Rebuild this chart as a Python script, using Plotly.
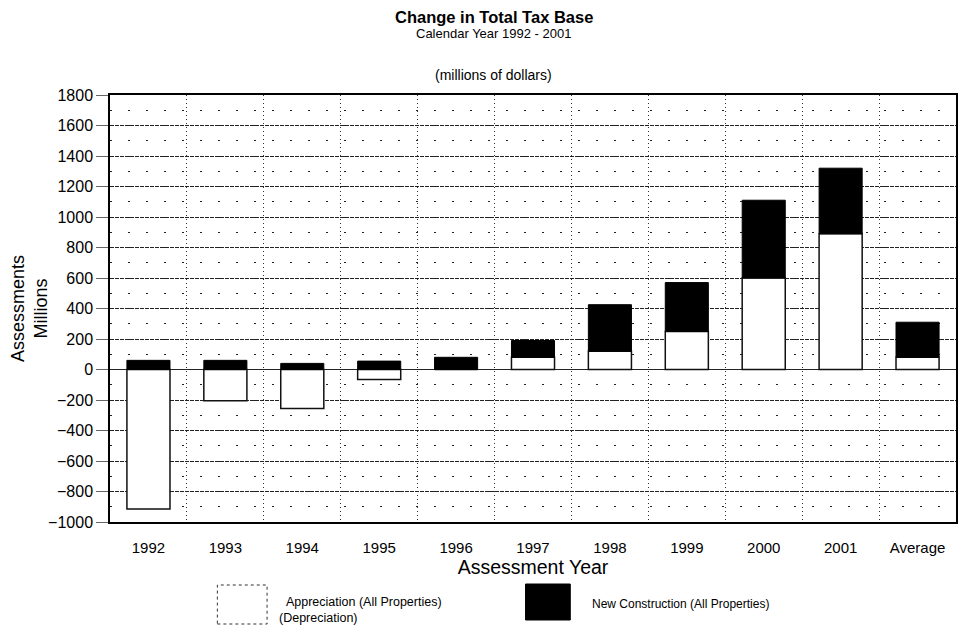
import plotly.graph_objects as go

categories = ["1992", "1993", "1994", "1995", "1996", "1997", "1998", "1999", "2000", "2001", "Average"]
appreciation = [-915, -205, -255, -65, 0, 80, 120, 250, 600, 890, 80]
new_construction = [60, 60, 40, 55, 80, 110, 305, 320, 510, 430, 230]
y_ticks = list(range(-1000, 1801, 200))

FONT = "Liberation Sans, Arial, Helvetica, sans-serif"

fig = go.Figure()
fig.add_trace(go.Bar(
    x=categories, y=appreciation, name="Appreciation (All Properties)",
    marker=dict(color="white", line=dict(color="#111", width=1.5)),
    showlegend=False,
))
fig.add_trace(go.Bar(
    x=categories, y=new_construction, name="New Construction (All Properties)",
    marker=dict(color="black", line=dict(color="black", width=1)),
    showlegend=False,
))

# page has an 8px body margin; figure sized to fit inside the window
OFF = 8
W, H = 950, 619
L, R, T, B = 107 - OFF, 0, 95 - OFF, (OFF + H) - 522
pw, ph = W - L - R, H - T - B

def px_x(px):
    return (px - OFF - L) / pw

def px_y(py):
    return (OFF + H - B - py) / ph

def note(text, x, y, size, xanchor="center", bold=False, align="center"):
    return dict(text=f"<b>{text}</b>" if bold else text, xref="paper", yref="paper",
                x=px_x(x), y=px_y(y), xanchor=xanchor, yanchor="middle", align=align,
                showarrow=False, font=dict(size=size, family=FONT, color="black"))

fig.update_layout(
    width=W, height=H,
    margin=dict(l=L, r=R, t=T, b=B),
    barmode="relative",
    bargap=0.44,
    plot_bgcolor="white",
    paper_bgcolor="white",
    font=dict(family=FONT, color="black", size=13),
    xaxis=dict(
        type="category",
        tickson="boundaries",
        showgrid=True, gridcolor="#333", griddash="1px,3px", gridwidth=1,
        ticks="", ticklabelstandoff=11,
        showline=True, linecolor="black", linewidth=2, mirror=True,
        tickfont=dict(size=15, family=FONT),
        title=dict(text="Assessment Year", font=dict(size=19.5, family=FONT), standoff=0),
    ),
    yaxis=dict(
        range=[-1000, 1800],
        tickvals=y_ticks,
        showgrid=True, gridcolor="#222", griddash="4px,1px", gridwidth=1,
        zeroline=True, zerolinecolor="#222", zerolinewidth=1,
        minor=dict(dtick=100, showgrid=True, gridcolor="#222", griddash="2px,16px", gridwidth=1),
        ticks="outside", ticklen=12, tickcolor="#666", tickwidth=1,
        showline=True, linecolor="black", linewidth=1.5, mirror=True,
        tickfont=dict(size=16, family=FONT),
        title=dict(text="Assessments<br>Millions", font=dict(size=18, family=FONT), standoff=4),
    ),
    shapes=[
        dict(type="rect", xref="paper", yref="paper",
             x0=px_x(215), x1=px_x(265), y0=px_y(624), y1=px_y(585),
             line=dict(color="#333", width=1, dash="dot"), fillcolor="white"),
        dict(type="rect", xref="paper", yref="paper",
             x0=px_x(525), x1=px_x(570), y0=px_y(620), y1=px_y(584),
             line=dict(color="black", width=1), fillcolor="black"),
    ],
    annotations=[
        note("Change in Total Tax Base", 493, 17, 16.5, bold=True),
        note("Calendar Year 1992 - 2001", 493, 33, 13),
        note("(millions of dollars)", 493, 75, 14),
        note("&nbsp;&nbsp;Appreciation (All Properties)<br>(Depreciation)", 275, 610, 12.5,
             xanchor="left", align="left"),
        note("New Construction (All Properties)", 590, 604, 12, xanchor="left"),
    ],
)

fig.write_html("out.html")
